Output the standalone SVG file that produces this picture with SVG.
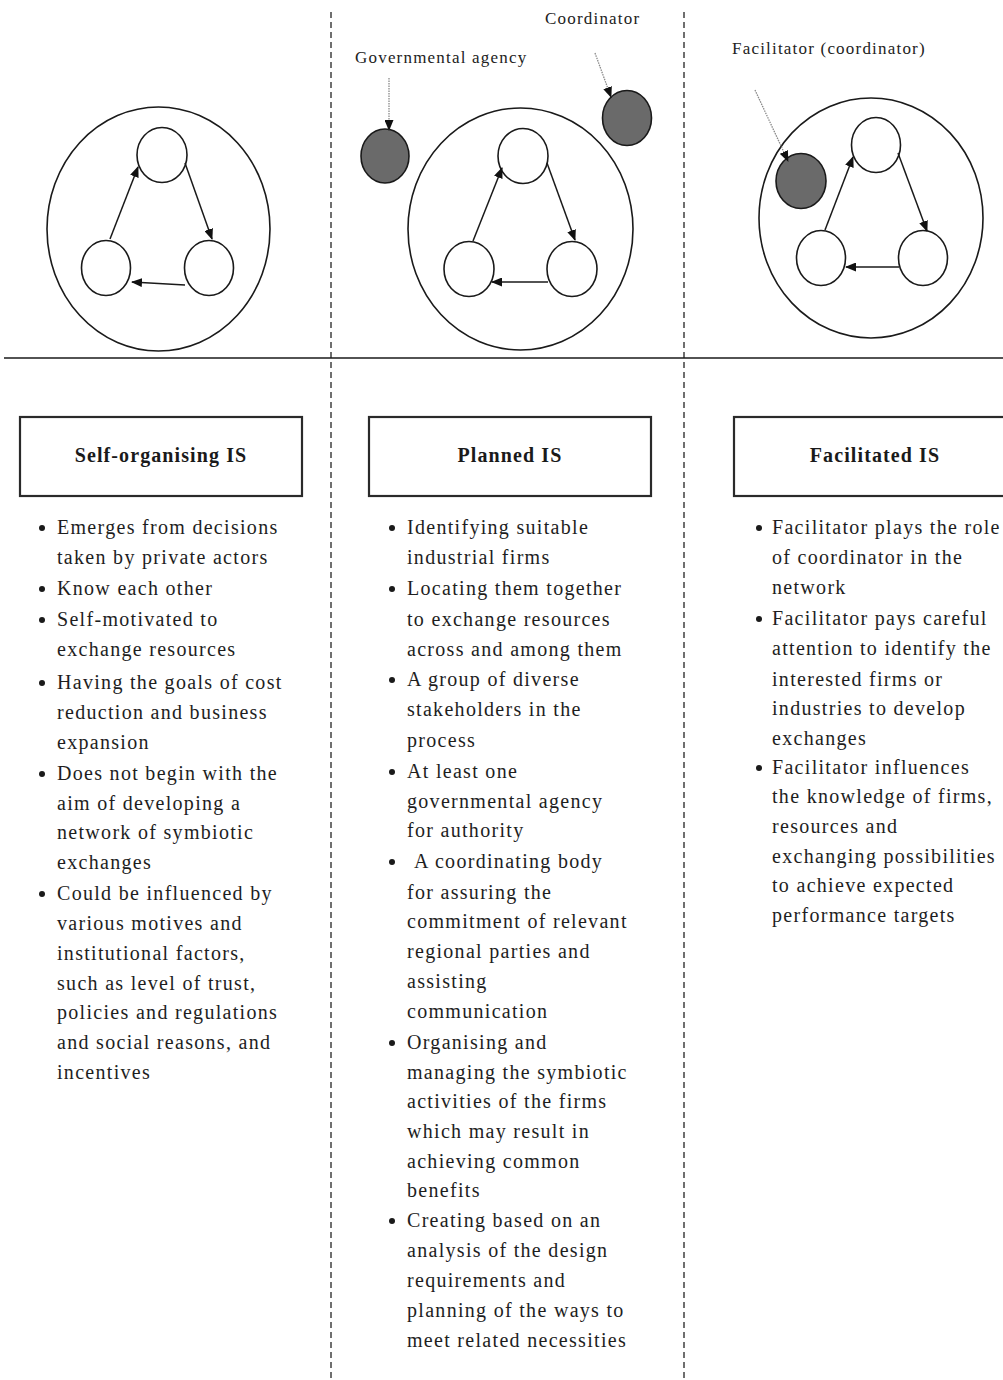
<svg xmlns="http://www.w3.org/2000/svg" width="1003" height="1380" viewBox="0 0 1003 1380">
  <style>
    .ring { fill: none; stroke: #1a1a1a; stroke-width: 1.6; }
    .firm { fill: #ffffff; stroke: #1a1a1a; stroke-width: 1.6; }
    .actor { fill: #6a6a6a; stroke: #1a1a1a; stroke-width: 1.6; }
    .flow { fill: none; stroke: #1a1a1a; stroke-width: 1.5; marker-end: url(#head); }
    .pointer { fill: none; stroke: #8a8a8a; stroke-width: 1.3; stroke-dasharray: 1.5 1; marker-end: url(#head); }
    .divider { stroke: #333333; stroke-width: 1.4; stroke-dasharray: 6 4; }
    .rule { stroke: #1a1a1a; stroke-width: 1.6; }
    .box { fill: #ffffff; stroke: #2a2a2a; stroke-width: 2.2; }
    .label { font-family: "Liberation Serif", "Times New Roman", serif; font-size: 17px; fill: #222222; letter-spacing: 1.2px; }
    .title { font-family: "Liberation Serif", "Times New Roman", serif; font-size: 20px; font-weight: bold; fill: #1a1a1a; letter-spacing: 1.1px; text-anchor: middle; }
    .item { font-family: "Liberation Serif", "Times New Roman", serif; font-size: 20px; fill: #1e1e1e; letter-spacing: 1.3px; }
    .dot { fill: #1a1a1a; }
  </style>
  <defs>
    <marker id="head" markerUnits="userSpaceOnUse" markerWidth="11" markerHeight="9" refX="10" refY="4.5" orient="auto">
      <path d="M0,0 L11,4.5 L0,9 z" fill="#111111"/>
    </marker>
  </defs>

  <!-- column dividers and the horizontal rule -->
  <g id="frame">
    <line class="divider" x1="331" y1="12" x2="331" y2="1380"/>
    <line class="divider" x1="684" y1="12" x2="684" y2="1380"/>
    <line class="rule" x1="4" y1="358" x2="1003" y2="358"/>
  </g>

  <!-- self-organising network -->
  <g id="network-self">
    <ellipse class="ring" cx="158.5" cy="229" rx="111.5" ry="122"/>
    <ellipse id="self-firm-top" class="firm" cx="162" cy="155" rx="25" ry="27.5"/>
    <ellipse id="self-firm-left" class="firm" cx="106" cy="268" rx="24.5" ry="27.5"/>
    <ellipse id="self-firm-right" class="firm" cx="209" cy="268" rx="24.5" ry="27.5"/>
  </g>

  <!-- planned network -->
  <g id="network-planned">
    <ellipse class="ring" cx="520.5" cy="229" rx="112.5" ry="121"/>
    <ellipse id="planned-firm-top" class="firm" cx="523" cy="156" rx="25" ry="27.5"/>
    <ellipse id="planned-firm-left" class="firm" cx="469" cy="269" rx="25" ry="27.5"/>
    <ellipse id="planned-firm-right" class="firm" cx="572" cy="269" rx="25" ry="27.5"/>
  </g>
  <g id="gov-agency">
    <ellipse class="actor" cx="385" cy="156" rx="24" ry="27"/>
    <text class="label" x="355" y="63">Governmental agency</text>
  </g>
  <g id="coordinator">
    <ellipse class="actor" cx="627" cy="118" rx="24.5" ry="27.5"/>
    <text class="label" x="545" y="24">Coordinator</text>
  </g>

  <!-- facilitated network -->
  <g id="network-facilitated">
    <ellipse class="ring" cx="871" cy="218" rx="112" ry="120"/>
    <ellipse id="fac-firm-top" class="firm" cx="876" cy="145" rx="24.5" ry="27.5"/>
    <ellipse id="fac-firm-left" class="firm" cx="821" cy="258" rx="24.5" ry="27.5"/>
    <ellipse id="fac-firm-right" class="firm" cx="923" cy="258" rx="24.5" ry="27.5"/>
  </g>
  <g id="facilitator">
    <ellipse class="actor" cx="801" cy="181" rx="25" ry="27.5"/>
    <text class="label" x="732" y="54">Facilitator (coordinator)</text>
  </g>

  <!-- exchange flows and pointers -->
  <g id="connectors">
    <line class="flow" x1="110" y1="239" x2="138" y2="167"/>
    <line class="flow" x1="185" y1="163" x2="212" y2="239"/>
    <line class="flow" x1="185" y1="285" x2="132" y2="282"/>

    <line class="flow" x1="473" y1="241" x2="502" y2="168"/>
    <line class="flow" x1="547" y1="163" x2="575" y2="240"/>
    <line class="flow" x1="548" y1="282" x2="492" y2="282"/>

    <line class="flow" x1="825" y1="230" x2="853" y2="157"/>
    <line class="flow" x1="898" y1="153" x2="927" y2="231"/>
    <line class="flow" x1="899" y1="267" x2="846" y2="267"/>

    <line class="pointer" x1="389" y1="78" x2="389" y2="130"/>
    <line class="pointer" x1="595" y1="53" x2="611" y2="97"/>
    <line class="pointer" x1="755" y1="90" x2="788" y2="161"/>
  </g>

  <!-- heading boxes -->
  <g id="box-self">
    <rect class="box" x="20" y="417" width="282" height="79"/>
    <text class="title" x="161" y="462">Self-organising IS</text>
  </g>
  <g id="box-planned">
    <rect class="box" x="369" y="417" width="282" height="79"/>
    <text class="title" x="510" y="462">Planned IS</text>
  </g>
  <g id="box-facilitated">
    <rect class="box" x="734" y="417" width="282" height="79"/>
    <text class="title" x="875" y="462">Facilitated IS</text>
  </g>

  <!-- self-organising characteristics -->
  <g id="list-self">
    <circle class="dot" cx="42" cy="528" r="3"/>
    <text class="item" x="57" y="534">Emerges from decisions</text>
    <text class="item" x="57" y="564">taken by private actors</text>
    <circle class="dot" cx="42" cy="589" r="3"/>
    <text class="item" x="57" y="595">Know each other</text>
    <circle class="dot" cx="42" cy="620" r="3"/>
    <text class="item" x="57" y="626">Self-motivated to</text>
    <text class="item" x="57" y="656">exchange resources</text>
    <circle class="dot" cx="42" cy="683" r="3"/>
    <text class="item" x="57" y="689">Having the goals of cost</text>
    <text class="item" x="57" y="719">reduction and business</text>
    <text class="item" x="57" y="749">expansion</text>
    <circle class="dot" cx="42" cy="774" r="3"/>
    <text class="item" x="57" y="780">Does not begin with the</text>
    <text class="item" x="57" y="810">aim of developing a</text>
    <text class="item" x="57" y="839">network of symbiotic</text>
    <text class="item" x="57" y="869">exchanges</text>
    <circle class="dot" cx="42" cy="894" r="3"/>
    <text class="item" x="57" y="900">Could be influenced by</text>
    <text class="item" x="57" y="930">various motives and</text>
    <text class="item" x="57" y="960">institutional factors,</text>
    <text class="item" x="57" y="990">such as level of trust,</text>
    <text class="item" x="57" y="1019">policies and regulations</text>
    <text class="item" x="57" y="1049">and social reasons, and</text>
    <text class="item" x="57" y="1079">incentives</text>
  </g>

  <!-- planned characteristics -->
  <g id="list-planned">
    <circle class="dot" cx="392" cy="528" r="3"/>
    <text class="item" x="407" y="534">Identifying suitable</text>
    <text class="item" x="407" y="564">industrial firms</text>
    <circle class="dot" cx="392" cy="589" r="3"/>
    <text class="item" x="407" y="595">Locating them together</text>
    <text class="item" x="407" y="626">to exchange resources</text>
    <text class="item" x="407" y="656">across and among them</text>
    <circle class="dot" cx="392" cy="680" r="3"/>
    <text class="item" x="407" y="686">A group of diverse</text>
    <text class="item" x="407" y="716">stakeholders in the</text>
    <text class="item" x="407" y="747">process</text>
    <circle class="dot" cx="392" cy="772" r="3"/>
    <text class="item" x="407" y="778">At least one</text>
    <text class="item" x="407" y="808">governmental agency</text>
    <text class="item" x="407" y="837">for authority</text>
    <circle class="dot" cx="392" cy="862" r="3"/>
    <text class="item" x="414" y="868">A coordinating body</text>
    <text class="item" x="407" y="899">for assuring the</text>
    <text class="item" x="407" y="928">commitment of relevant</text>
    <text class="item" x="407" y="958">regional parties and</text>
    <text class="item" x="407" y="988">assisting</text>
    <text class="item" x="407" y="1018">communication</text>
    <circle class="dot" cx="392" cy="1043" r="3"/>
    <text class="item" x="407" y="1049">Organising and</text>
    <text class="item" x="407" y="1079">managing the symbiotic</text>
    <text class="item" x="407" y="1108">activities of the firms</text>
    <text class="item" x="407" y="1138">which may result in</text>
    <text class="item" x="407" y="1168">achieving common</text>
    <text class="item" x="407" y="1197">benefits</text>
    <circle class="dot" cx="392" cy="1221" r="3"/>
    <text class="item" x="407" y="1227">Creating based on an</text>
    <text class="item" x="407" y="1257">analysis of the design</text>
    <text class="item" x="407" y="1287">requirements and</text>
    <text class="item" x="407" y="1317">planning of the ways to</text>
    <text class="item" x="407" y="1347">meet related necessities</text>
  </g>

  <!-- facilitated characteristics -->
  <g id="list-facilitated">
    <circle class="dot" cx="759" cy="528" r="3"/>
    <text class="item" x="772" y="534">Facilitator plays the role</text>
    <text class="item" x="772" y="564">of coordinator in the</text>
    <text class="item" x="772" y="594">network</text>
    <circle class="dot" cx="759" cy="619" r="3"/>
    <text class="item" x="772" y="625">Facilitator pays careful</text>
    <text class="item" x="772" y="655">attention to identify the</text>
    <text class="item" x="772" y="686">interested firms or</text>
    <text class="item" x="772" y="715">industries to develop</text>
    <text class="item" x="772" y="745">exchanges</text>
    <circle class="dot" cx="759" cy="768" r="3"/>
    <text class="item" x="772" y="774">Facilitator influences</text>
    <text class="item" x="772" y="803">the knowledge of firms,</text>
    <text class="item" x="772" y="833">resources and</text>
    <text class="item" x="772" y="863">exchanging possibilities</text>
    <text class="item" x="772" y="892">to achieve expected</text>
    <text class="item" x="772" y="922">performance targets</text>
  </g>
</svg>
